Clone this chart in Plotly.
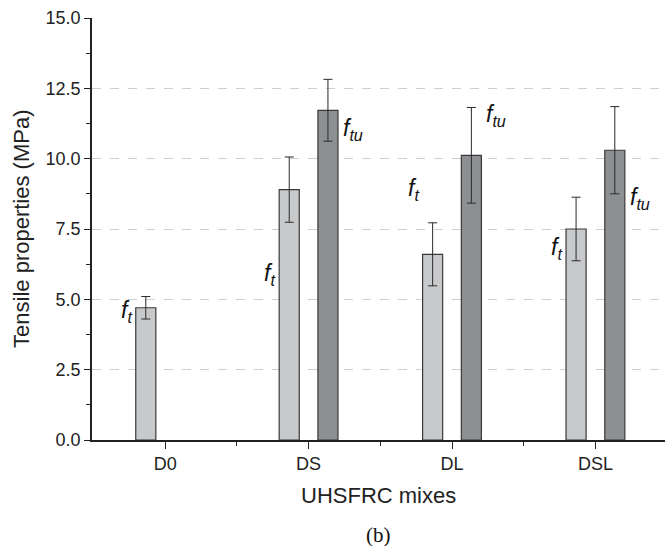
import plotly.graph_objects as go

categories = ["D0", "DS", "DL", "DSL"]
ft_vals = [4.70, 8.90, 6.60, 7.50]
ft_err = [0.40, 1.16, 1.12, 1.13]
ftu_vals = [None, 11.72, 10.12, 10.30]
ftu_err = [None, 1.10, 1.70, 1.55]
yticks = [0, 2.5, 5, 7.5, 10, 12.5, 15]

# label positions (category index, value) for the italic f labels
ft_label_y = [4.55, 5.9, 8.9, 6.8]
ftu_label_y = [None, 11.05, 11.55, 8.6]

x = list(range(len(categories)))

fig = go.Figure()
fig.add_trace(go.Bar(
    x=x, y=ft_vals, width=0.14, offset=-0.205,
    marker=dict(color="#c8c9cb", line=dict(color="#3a3a3a", width=1.2)),
    error_y=dict(type="data", array=ft_err, color="#2a2a2a", thickness=1, width=4.5),
    showlegend=False,
))
fig.add_trace(go.Bar(
    x=x, y=ftu_vals, width=0.14, offset=0.065,
    marker=dict(color="#8e8f93", line=dict(color="#3a3a3a", width=1.2)),
    error_y=dict(type="data", array=ftu_err, color="#2a2a2a", thickness=1, width=4.5),
    showlegend=False,
))

lab_font = dict(family="Liberation Sans, Arial, sans-serif", size=23, color="#111")
for i in x:
    fig.add_annotation(x=i - 0.205, y=ft_label_y[i], xref="x", yref="y",
                       text="<i>f</i><sub><i>t</i></sub>", showarrow=False,
                       xanchor="right", xshift=-1, font=lab_font)
    if ftu_label_y[i] is not None:
        fig.add_annotation(x=i + 0.205, y=ftu_label_y[i], xref="x", yref="y",
                           text="<i>f</i><sub><i>tu</i></sub>", showarrow=False,
                           xanchor="left", xshift=3, font=lab_font)

title_font = dict(family="Liberation Sans, Arial, sans-serif", size=22, color="#222")
fig.add_annotation(x=0.5, y=-0.1327, xref="paper", yref="paper", text="UHSFRC mixes",
                   showarrow=False, yanchor="middle", xanchor="center", font=title_font)
fig.add_annotation(x=-0.124, y=0.5, xref="paper", yref="paper", text="Tensile properties (MPa)",
                   showarrow=False, textangle=-90, yanchor="middle", xanchor="center",
                   font=title_font)
fig.add_annotation(x=0.5, y=-0.225, xref="paper", yref="paper", text="(b)",
                   showarrow=False, yanchor="middle",
                   font=dict(family="Liberation Serif, Times New Roman, serif", size=21, color="#111"))

font = dict(family="Liberation Sans, Arial, sans-serif", size=18, color="#222")
fig.update_layout(
    width=665, height=546,
    margin=dict(l=92, r=0, t=18, b=106),
    plot_bgcolor="white", paper_bgcolor="white",
    font=font,
    barmode="group",
    xaxis=dict(
        range=[-0.51, 3.485], tickmode="array", tickvals=x, ticktext=categories,
        ticks="outside", ticklen=7, tickwidth=1.2, tickcolor="#222",
        minor=dict(tickmode="array", tickvals=[0.5, 1.5, 2.5], ticks="outside",
                   ticklen=4, tickwidth=1.2, tickcolor="#222", showgrid=False),
        showline=True, linecolor="#222", linewidth=1.6, showgrid=False, zeroline=False,
        tickfont=dict(size=18),
    ),
    yaxis=dict(
        range=[0, 15], tickmode="array", tickvals=yticks,
        ticktext=[f"{v:.1f}" for v in yticks],
        ticks="outside", ticklen=6, tickwidth=1.2, tickcolor="#222",
        minor=dict(tickmode="array", tickvals=[1.25, 3.75, 6.25, 8.75, 11.25, 13.75],
                   ticks="outside", ticklen=4, tickwidth=1.2, tickcolor="#222", showgrid=False),
        showline=True, linecolor="#222", linewidth=1.6,
        showgrid=True, gridcolor="#cfcfcf", griddash="dash", gridwidth=1, zeroline=False,
        tickfont=dict(size=18),
    ),
)

fig.write_html("out.html")
